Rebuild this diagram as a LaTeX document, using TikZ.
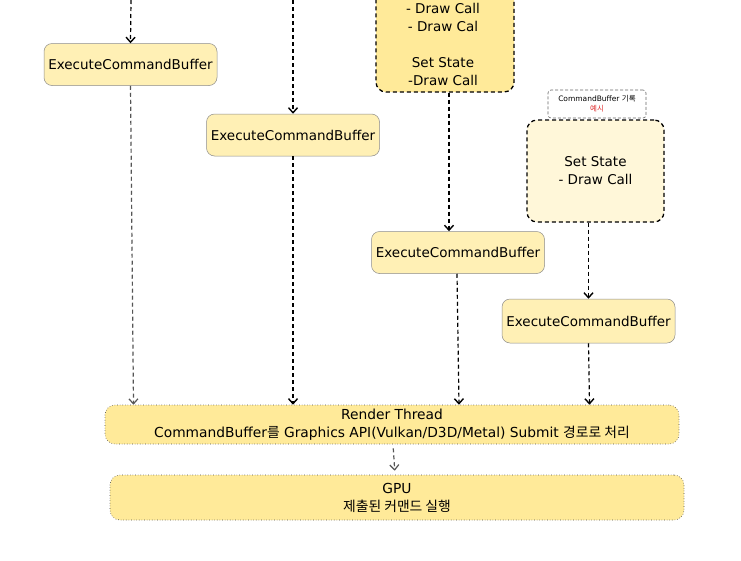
\documentclass[tikz,border=0pt]{standalone}
\usepackage{fontspec}
\setmainfont{DejaVu Sans}
\newfontfamily\ko{Noto Sans CJK KR}
\usetikzlibrary{arrows.meta}
\definecolor{ecbfill}{HTML}{FFF0B5}
\definecolor{ecbline}{HTML}{8C8C8C}
\definecolor{boxfill}{HTML}{FFEA99}
\definecolor{lightfill}{HTML}{FFF7D9}
\definecolor{arrgray}{HTML}{555555}
\definecolor{kred}{HTML}{E03131}
\begin{document}
\begin{tikzpicture}[x=1pt,y=-1pt,
  ecb/.style={draw=ecbline,line width=0.5pt,fill=ecbfill,rounded corners=8pt,minimum width=173pt,minimum height=42pt,font=\fontsize{13.5}{16}\selectfont,inner sep=0pt},
  bigbox/.style={draw=black,line width=1.3pt,dash pattern=on 4pt off 3pt,rounded corners=10pt,inner sep=0pt,align=center,font=\fontsize{13.5}{18}\selectfont},
  wide/.style={draw=black!70,line width=0.6pt,dotted,fill=boxfill,rounded corners=10pt,minimum width=574pt,inner sep=0pt,align=center,font=\fontsize{13.8}{18}\selectfont},
  flow/.style={line width=1.2pt,dash pattern=on 4pt off 3pt,-{Straight Barb[length=5pt,width=9pt,line width=1.4pt]}},
  grayflow/.style={line width=1.2pt,draw=arrgray,dash pattern=on 4pt off 3pt,-{Straight Barb[length=5pt,width=9pt,line width=1.2pt]}},
  note/.style={draw=black!60,line width=0.6pt,dash pattern=on 3pt off 2pt,rounded corners=3pt,minimum width=98pt,minimum height=28pt,inner sep=0pt,align=center,font=\fontsize{7.5}{11}\selectfont}
]
\useasboundingbox (0,0) rectangle (741,560);
\fill[white] (0,0) rectangle (741,560);

\coordinate (s1) at (131,0);
\coordinate (s2) at (293,0);

\node[ecb] (ecb1) at (130.5,64.5) {ExecuteCommandBuffer};
\node[ecb] (ecb2) at (293,135) {ExecuteCommandBuffer};
\node[bigbox,fill=boxfill,minimum width=138pt,minimum height=102pt] (topbox) at (445,41) {};
\node[align=center,inner sep=0pt,font=\fontsize{13.5}{18}\selectfont] (topboxtxt) at (443,44)
  {- Draw Call\\ - Draw Cal\\ \\ Set State\\ -Draw Call};
\node[ecb] (ecb3) at (458,252.5) {ExecuteCommandBuffer};
\node[note] (note) at (597,104) {CommandBuffer {\ko 기록}\\[-1pt] \textcolor{kred}{\ko 예시}};
\node[bigbox,fill=lightfill,minimum width=137pt,minimum height=102pt] (ss) at (595.5,171)
  {Set State\\ - Draw Call};
\node[ecb,minimum height=44pt] (ecb4) at (588.5,321) {ExecuteCommandBuffer};

\node[wide,minimum height=39pt] (render) at (392,424.5)
  {Render Thread\\ CommandBuffer{\ko 를} Graphics API(Vulkan/D3D/Metal) Submit {\ko 경로로 처리}};
\node[wide,minimum height=45pt] (gpu) at (397,497.5)
  {GPU\\ {\ko 제출된 커맨드 실행}};

\draw[flow] (s1) -- (ecb1.north);
\draw[flow] (s2) -- (ecb2.north);
\draw[grayflow] (ecb1.south) -- ([xshift=3pt]ecb1.south |- render.north);
\draw[flow] (ecb2.south) -- (ecb2.south |- render.north);
\draw[flow] ([xshift=4pt]topbox.south) -- ([xshift=4pt]topbox.south |- ecb3.north);
\draw[flow] ([xshift=-1pt]ecb3.south) -- ([xshift=1pt]ecb3.south |- render.north);
\draw[flow] ([xshift=-7pt]ss.south) -- ([xshift=-7pt]ss.south |- ecb4.north);
\draw[flow] (ecb4.south) -- ([xshift=1pt]ecb4.south |- render.north);
\draw[grayflow,shorten <=4pt,shorten >=4pt] ([xshift=1pt]render.south) -- ([xshift=-2pt]gpu.north);
\end{tikzpicture}
\end{document}
